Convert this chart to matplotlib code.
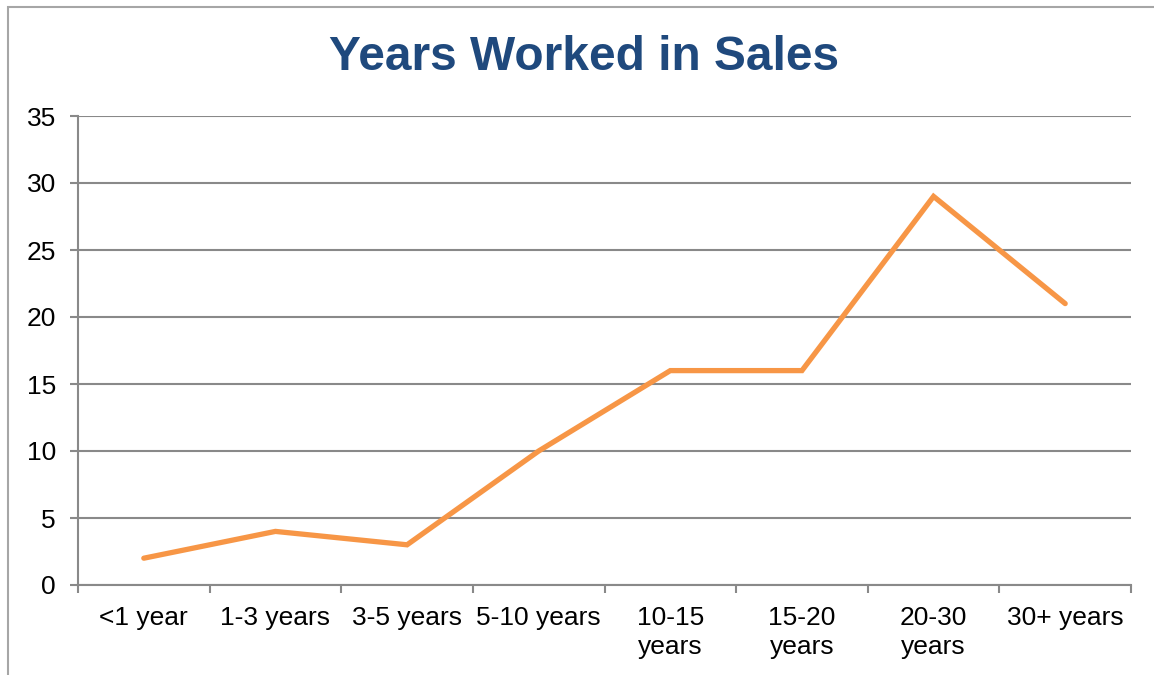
import matplotlib.pyplot as plt
from matplotlib.patches import Rectangle

plt.rcParams['font.family'] = ['Liberation Sans', 'DejaVu Sans']

categories = ['<1 year', '1-3 years', '3-5 years', '5-10 years',
              '10-15\nyears', '15-20\nyears', '20-30\nyears', '30+ years']
counts = [2, 4, 3, 10, 16, 16, 29, 21]
y_ticks = [0, 5, 10, 15, 20, 25, 30, 35]

GRID = '#898989'

fig = plt.figure(figsize=(11.54, 6.75), dpi=100)
ax = fig.add_axes([78 / 1154, 90 / 675, (1131 - 78) / 1154, (585 - 116) / 675])

# chart area border (partly cropped in the original)
fig.patches.append(Rectangle((8 / 1154, -0.1), 1.2, (668 / 675) + 0.1,
                             transform=fig.transFigure, fill=False,
                             edgecolor='#a6a6a6', linewidth=1.5))

x = list(range(len(categories)))
ax.plot(x, counts, color='#F79646', linewidth=3.8, solid_capstyle='round',
        solid_joinstyle='miter', zorder=3)

ax.set_xlim(-0.5, len(categories) - 0.5)
ax.set_ylim(0, 35)
ax.set_yticks(y_ticks)
ax.yaxis.grid(True, color=GRID, linewidth=1.5)
ax.set_axisbelow(True)

ax.set_xticks(x)
ax.set_xticklabels(categories, fontsize=19, linespacing=1.25, va='top')
ax.set_xticks([i - 0.5 for i in range(len(categories) + 1)], minor=True)
ax.tick_params(axis='x', which='major', length=0, pad=15)
ax.tick_params(axis='x', which='minor', length=6, width=1.5, color=GRID)
ax.tick_params(axis='y', length=6, width=1.5, color=GRID, labelsize=19, pad=10)

for side in ['top', 'right']:
    ax.spines[side].set_visible(False)
for side in ['left', 'bottom']:
    ax.spines[side].set_color(GRID)
    ax.spines[side].set_linewidth(1.5)

fig.text(584 / 1154, 1 - 58 / 675, 'Years Worked in Sales', ha='center',
         va='center', fontsize=34.5, fontweight='bold', color='#1F497D')

fig.savefig('out.png', dpi=100)
